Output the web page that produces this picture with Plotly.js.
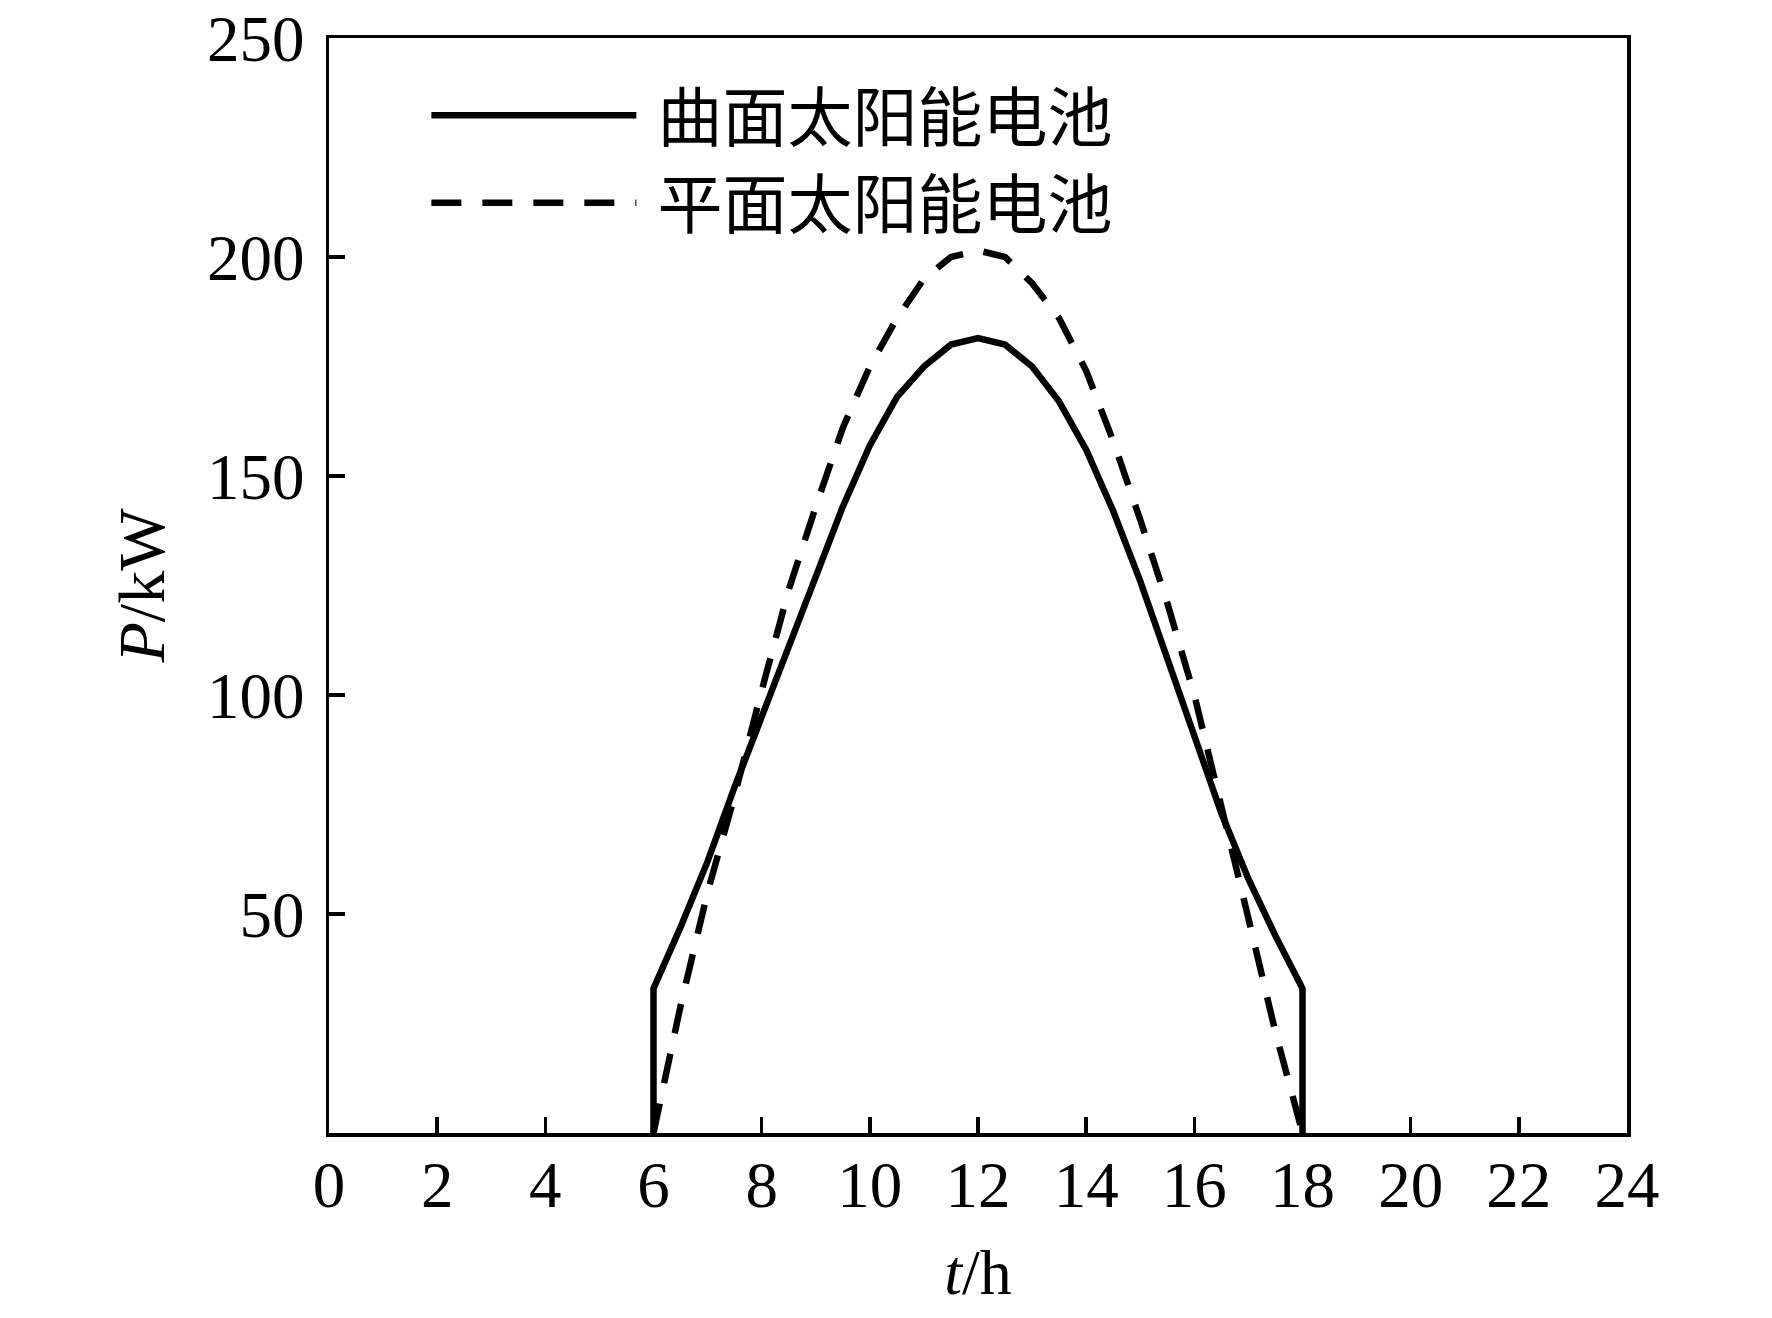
<!DOCTYPE html>
<html>
<head>
<meta charset="utf-8">
<script src="https://cdn.plot.ly/plotly-3.0.1.min.js"></script>
<style>
  html, body { margin: 0; padding: 0; background: #fff; }
  #chart { width: 1772px; height: 1318px; }
</style>
</head>
<body>
<div id="chart"></div>
<script>
// hourly output of the two panel types (0.5 h steps)
var tCurved = [6, 6, 6.5, 7, 7.5, 8, 8.5, 9, 9.5, 10, 10.5, 11, 11.5, 12,
               12.5, 13, 13.5, 14, 14.5, 15, 15.5, 16, 16.5, 17, 17.5, 18, 18];
var pCurved = [0, 33, 47, 62, 79, 95, 110, 127, 143, 157, 168, 175, 180, 181.5,
               180, 175, 167, 156, 142, 126, 108, 90, 73, 58, 45, 33, 0];

var tFlat = [6, 6.5, 7, 7.5, 8, 8.5, 9, 9.5, 10, 10.5, 11, 11.5, 12,
             12.5, 13, 13.5, 14, 14.5, 15, 15.5, 16, 16.5, 17, 17.5, 18];
var pFlat = [0, 29, 55, 77, 101, 124, 143, 161, 175, 186, 195, 200, 201.5,
             200, 194, 186, 174, 158, 140, 121, 100, 75, 49, 23, 0];

var nameCurved = "曲面太阳能电池";
var nameFlat = "平面太阳能电池";

var xTicks = [0, 2, 4, 6, 8, 10, 12, 14, 16, 18, 20, 22, 24];
var yTicks = [50, 100, 150, 200, 250];

var serif = "Liberation Serif, Times New Roman, serif";
var cjk = "Liberation Serif, Noto Sans CJK SC, serif";

// small gap between legend line and label, as in the original
var pad = "\u00a0";

var traces = [
    {
        x: tCurved, y: pCurved, name: pad + nameCurved,
        type: "scatter", mode: "lines",
        line: {color: "#000", width: 6.5}
    },
    {
        x: tFlat, y: pFlat, name: pad + nameFlat,
        type: "scatter", mode: "lines",
        line: {color: "#000", width: 6.5, dash: "30px,21px"}
    }
];

var axisCommon = {
    showgrid: false, zeroline: false,
    showline: true, linecolor: "#000", linewidth: 3.5, mirror: true,
    ticks: "inside", ticklen: 16, tickwidth: 3.5, tickcolor: "#000",
    tickfont: {family: serif, size: 65, color: "#000"}
};

var layout = {
    width: 1772, height: 1318,
    margin: {l: 329, r: 145, t: 38, b: 185},
    paper_bgcolor: "#fff", plot_bgcolor: "#fff",
    showlegend: true,
    legend: {
        x: 0.075, y: 0.974, xanchor: "left", yanchor: "top",
        bgcolor: "rgba(0,0,0,0)", borderwidth: 0,
        itemwidth: 205,
        font: {family: cjk, size: 65, color: "#000"},
        tracegroupgap: 0
    },
    xaxis: Object.assign({}, axisCommon, {
        range: [0, 24], tickvals: xTicks, ticktext: xTicks.map(String),
        ticklabelstandoff: -8,
        title: {text: "<i>t</i>/h", font: {family: serif, size: 64, color: "#000"}, standoff: 30}
    }),
    yaxis: Object.assign({}, axisCommon, {
        range: [0, 250], tickvals: yTicks, ticktext: yTicks.map(String),
        ticklabelstandoff: 8,
        title: {text: "<i>P</i>/kW", font: {family: serif, size: 66, color: "#000"}, standoff: 22}
    })
};

Plotly.newPlot("chart", traces, layout, {displayModeBar: false, staticPlot: true});
</script>
</body>
</html>
